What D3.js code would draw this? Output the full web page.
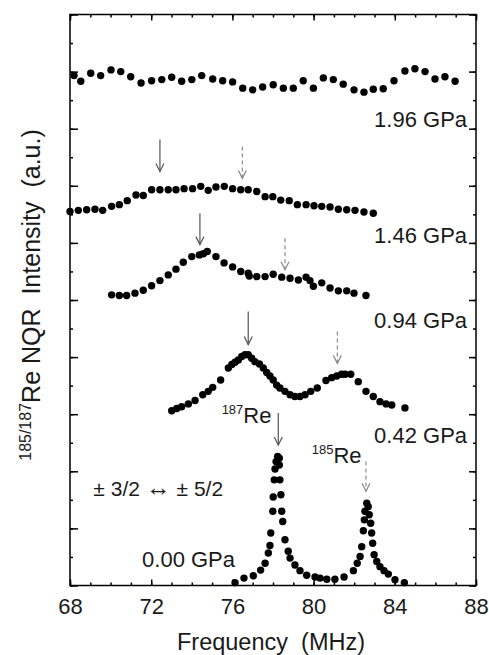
<!DOCTYPE html>
<html>
<head>
<meta charset="utf-8">
<script src="https://cdn.jsdelivr.net/npm/d3@7"></script>
<style>
  html, body { margin: 0; padding: 0; background: #fff; }
  svg { display: block; }
  text { font-family: "Liberation Sans", Arial, Helvetica, sans-serif; fill: #1a1a1a; }
</style>
</head>
<body>
<svg id="chart" width="489" height="655"></svg>
<script>
// ---------------- data ----------------
const pressures = ["1.96 GPa", "1.46 GPa", "0.94 GPa", "0.42 GPa", "0.00 GPa"];

const freq196 = [68.20,68.53,69.02,69.51,70.02,70.50,70.99,71.50,72.02,72.52,73.01,73.50,74.00,74.49,75.03,75.52,76.01,76.51,77.00,77.49,78.01,78.51,79.00,79.49,79.99,80.48,80.97,81.46,81.99,82.48,82.94,83.43,83.96,84.50,84.99,85.49,85.98,86.47,86.97];
const int196  = [8.93,8.83,8.97,8.93,9.03,9.00,8.91,8.80,8.84,8.86,8.90,8.83,8.86,8.93,8.87,8.84,8.82,8.71,8.68,8.73,8.77,8.71,8.71,8.84,8.71,8.89,8.86,8.78,8.68,8.64,8.69,8.70,8.84,9.01,9.05,9.00,8.87,8.91,8.83];

const freq146 = [68.00,68.41,68.82,69.23,69.61,70.05,70.43,70.82,71.25,71.61,72.02,72.43,72.84,73.22,73.62,74.04,74.44,74.81,75.19,75.60,76.01,76.41,76.78,77.20,77.61,77.99,78.38,78.80,79.20,79.63,80.02,80.40,80.81,81.22,81.63,82.04,82.48,82.94];
const int146  = [6.55,6.57,6.58,6.59,6.57,6.64,6.67,6.74,6.84,6.83,6.93,6.93,6.93,6.93,6.95,6.95,6.99,6.92,6.98,6.99,6.95,6.93,6.93,6.90,6.81,6.81,6.75,6.74,6.67,6.67,6.65,6.64,6.63,6.59,6.58,6.57,6.54,6.52];

const freq094 = [70.05,70.43,70.79,71.20,71.61,72.02,72.43,72.84,73.22,73.58,74.00,74.37,74.57,74.76,75.19,75.59,76.01,76.41,76.78,76.83,77.20,77.61,78.01,78.43,78.84,79.25,79.63,79.82,79.99,80.40,80.81,81.22,81.63,81.99,82.58];
const int094  = [5.09,5.08,5.08,5.12,5.17,5.25,5.34,5.44,5.54,5.66,5.76,5.79,5.81,5.85,5.76,5.65,5.58,5.50,5.47,5.42,5.41,5.41,5.45,5.40,5.38,5.35,5.40,5.34,5.24,5.30,5.21,5.16,5.16,5.12,5.08];

const freq042 = [73.01,73.26,73.50,73.83,74.16,74.54,74.81,75.03,75.42,75.80,75.97,76.13,76.29,76.46,76.62,76.78,76.95,77.11,77.33,77.52,77.69,77.85,78.01,78.18,78.34,78.59,78.84,79.08,79.33,79.58,79.86,80.18,80.61,80.89,81.14,81.38,81.55,81.83,82.20,82.58,82.94,83.27,83.57,83.85,84.50];
const int042  = [3.06,3.10,3.13,3.18,3.24,3.34,3.40,3.47,3.60,3.81,3.87,3.91,3.95,4.01,4.04,4.04,3.98,3.92,3.88,3.81,3.73,3.67,3.60,3.51,3.46,3.40,3.34,3.31,3.31,3.34,3.40,3.46,3.59,3.64,3.67,3.70,3.70,3.70,3.57,3.40,3.31,3.22,3.18,3.16,3.11];

const freq000 = [76.13,76.57,77.03,77.39,77.61,77.77,77.85,77.89,77.99,78.01,78.06,78.10,78.15,78.23,78.31,78.31,78.34,78.39,78.43,78.48,78.59,78.75,78.84,79.08,79.33,79.66,80.07,80.32,80.65,81.05,81.50,81.96,82.15,82.29,82.37,82.45,82.50,82.53,82.62,82.69,82.74,82.81,82.86,82.91,82.98,83.11,83.27,83.47,83.68,84.01,84.47];
const int000  = [0.05,0.13,0.17,0.27,0.39,0.57,0.70,0.92,1.30,1.55,1.85,2.04,2.17,2.26,2.23,2.11,1.85,1.59,1.30,1.12,0.80,0.60,0.48,0.36,0.26,0.18,0.15,0.13,0.11,0.11,0.15,0.26,0.39,0.51,0.68,0.96,1.15,1.30,1.44,1.38,1.24,1.09,0.92,0.74,0.54,0.42,0.33,0.26,0.20,0.10,0.05];

// arrows: frequency, tip intensity, tail intensity, kind (187 solid / 185 dashed)
const arrowFreq = [72.43, 76.49, 74.40, 78.59, 76.78, 81.17, 78.26, 82.58];
const arrowTip  = [7.25, 7.13, 5.97, 5.53, 4.22, 3.89, 2.46, 1.65];
const arrowTail = [7.81, 7.69, 6.52, 6.08, 4.80, 4.45, 3.02, 2.17];
const arrowKind = ["solid","dashed","solid","dashed","solid","dashed","solid","dashed"];

// pressure label anchors (right edge freq, baseline intensity)
const labelFreq = [87.56, 87.56, 87.56, 87.56, 76.13];
const labelBase = [8.03, 6.00, 4.51, 2.49, 0.33];

const xTickMajor = [68, 72, 76, 80, 84, 88];

// ---------------- chart ----------------
const svg = d3.select("#chart");
const x = d3.scaleLinear().domain([68, 88]).range([70, 476]);
const y = d3.scaleLinear().domain([0, 10]).range([585.5, 14.5]);

const series = [
  {f: freq196, v: int196},
  {f: freq146, v: int146},
  {f: freq094, v: int094},
  {f: freq042, v: int042},
  {f: freq000, v: int000}
];

// axes with inward ticks
const minorX = d3.range(68, 88.01, 1);
const minorY = d3.range(0, 10.01, 0.5);
const majorY = d3.range(0, 10.01, 1);

function styleAxis(g) {
  g.select(".domain").remove();
  g.selectAll(".tick line").attr("stroke", "#000").attr("stroke-width", 1.5);
}

svg.append("g").attr("transform", `translate(0,${y(0)})`)
  .call(d3.axisBottom(x).tickValues(minorX).tickSize(-3).tickFormat(""))
  .call(styleAxis);
const bottomMajor = svg.append("g").attr("transform", `translate(0,${y(0)})`)
  .call(d3.axisBottom(x).tickValues(xTickMajor).tickSize(-6).tickPadding(13).tickFormat(d3.format("d")))
  .call(styleAxis);
bottomMajor.selectAll("text").attr("font-size", 22).attr("fill", "#1a1a1a")
  .attr("font-family", '"Liberation Sans", Arial, sans-serif');

svg.append("g").attr("transform", `translate(0,${y(10)})`)
  .call(d3.axisTop(x).tickValues(minorX).tickSize(-3).tickFormat(""))
  .call(styleAxis);
svg.append("g").attr("transform", `translate(0,${y(10)})`)
  .call(d3.axisTop(x).tickValues(xTickMajor).tickSize(-6).tickFormat(""))
  .call(styleAxis);

svg.append("g").attr("transform", `translate(${x(68)},0)`)
  .call(d3.axisLeft(y).tickValues(minorY).tickSize(-3).tickFormat(""))
  .call(styleAxis);
svg.append("g").attr("transform", `translate(${x(68)},0)`)
  .call(d3.axisLeft(y).tickValues(majorY).tickSize(-8).tickFormat(""))
  .call(styleAxis);
svg.append("g").attr("transform", `translate(${x(88)},0)`)
  .call(d3.axisRight(y).tickValues(minorY).tickSize(-3).tickFormat(""))
  .call(styleAxis);
svg.append("g").attr("transform", `translate(${x(88)},0)`)
  .call(d3.axisRight(y).tickValues(majorY).tickSize(-7).tickFormat(""))
  .call(styleAxis);

// frame
svg.append("rect")
  .attr("x", x(68)).attr("y", y(10))
  .attr("width", x(88) - x(68)).attr("height", y(0) - y(10))
  .attr("fill", "none").attr("stroke", "#000").attr("stroke-width", 1.5);

// arrows
const arrows = svg.append("g");
arrowFreq.forEach((f, i) => {
  const col = arrowKind[i] === "solid" ? "#555" : "#8a8a8a";
  const g = arrows.append("g").attr("stroke", col).attr("stroke-width", 1.2).attr("fill", "none");
  const xa = x(f), yt = y(arrowTip[i]), ys = y(arrowTail[i]);
  g.append("line").attr("x1", xa).attr("x2", xa).attr("y1", ys).attr("y2", yt)
    .attr("stroke-dasharray", arrowKind[i] === "solid" ? null : "4,3");
  g.append("path").attr("d", `M${xa - 4},${yt - 8} L${xa},${yt} L${xa + 4},${yt - 8}`);
});

// data points
series.forEach(s => {
  svg.append("g").selectAll("circle")
    .data(s.f.map((f, i) => [f, s.v[i]]))
    .join("circle")
    .attr("cx", d => x(d[0]))
    .attr("cy", d => y(d[1]))
    .attr("r", 3.7)
    .attr("fill", "#000");
});

// pressure labels
pressures.forEach((p, i) => {
  svg.append("text")
    .attr("x", x(labelFreq[i]))
    .attr("y", y(labelBase[i]))
    .attr("text-anchor", "end")
    .attr("font-size", 22)
    .text(p);
});

// isotope labels
function isoLabel(sup, f, b) {
  const t = svg.append("text").attr("x", x(f)).attr("y", y(b)).attr("font-size", 22);
  t.append("tspan").attr("font-size", 13).attr("dy", -9).text(sup);
  t.append("tspan").attr("dy", 9).text("Re");
}
isoLabel("187", 75.47, 2.84);
isoLabel("185", 79.91, 2.15);

// transition label
const tr = svg.append("text").attr("x", x(69.15)).attr("y", y(1.57)).attr("font-size", 21)
  .style("white-space", "pre");
tr.append("tspan").text("± 3/2 ");
tr.append("tspan").attr("font-size", 25).text("↔");
tr.append("tspan").text(" ± 5/2");

// x axis title
svg.append("text")
  .attr("x", (x(68) + x(88)) / 2 - 2)
  .attr("y", 650)
  .attr("text-anchor", "middle")
  .attr("font-size", 23.5)
  .style("white-space", "pre")
  .text("Frequency  (MHz)");

// y axis title
const yt = svg.append("text")
  .attr("transform", `translate(40,${(y(0) + y(10)) / 2 - 5}) rotate(-90)`)
  .attr("text-anchor", "middle")
  .attr("font-size", 25)
  .style("white-space", "pre");
yt.append("tspan").attr("font-size", 16).attr("dy", -9).text("185/187");
yt.append("tspan").attr("dy", 9).text("Re NQR  Intensity  (a.u.)");
</script>
</body>
</html>
